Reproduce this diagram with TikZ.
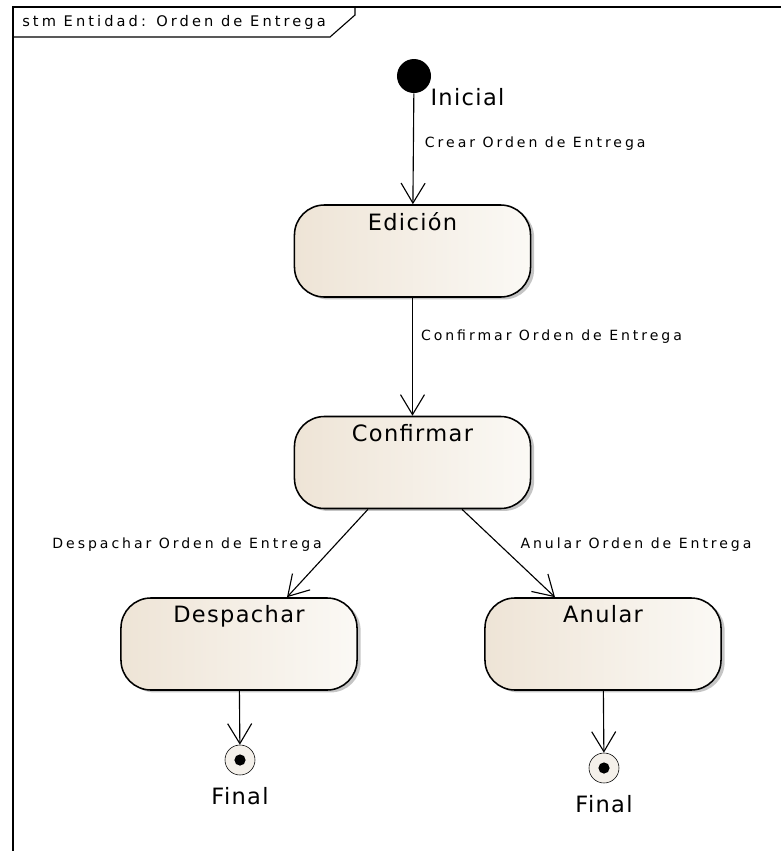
\documentclass[tikz,border=0pt]{standalone}
\usepackage{fontspec}
\setmainfont{DejaVu Sans}
\newfontfamily\lblfont[LetterSpace=21]{DejaVu Sans}
\newfontfamily\namefont[LetterSpace=6]{DejaVu Sans}
\usetikzlibrary{arrows.meta, shadows, calc}

\definecolor{stateleft}{HTML}{EEE4D6}
\definecolor{stateright}{HTML}{FBF9F5}
\definecolor{finalfill}{HTML}{F4F0EA}

\begin{document}
\begin{tikzpicture}[
    x=0.025cm, y=-0.025cm,
    statebox/.style={draw, line width=1.1pt, rounded corners=0.75cm,
        minimum width=5.9cm, minimum height=2.3cm,
        left color=stateleft, right color=stateright,
        drop shadow={shadow xshift=0.9mm, shadow yshift=-0.6mm, fill=black!45, opacity=0.5}},
    statename/.style={font=\namefont\fontsize{16}{19}\selectfont, anchor=north, inner sep=0pt, yshift=-0.2cm},
    transtext/.style={font=\lblfont\fontsize{10}{12}\selectfont, inner sep=0pt},
    transition/.style={-{Straight Barb[length=0.5cm, width=0.6cm]}, line width=0.8pt},
    initstate/.style={circle, fill=black, minimum size=0.85cm, inner sep=0pt},
    finalstate/.style={circle, draw, fill=finalfill, minimum size=0.75cm, inner sep=0pt,
        path picture={\fill [black] (path picture bounding box.center) circle (0.14cm);}},
    pseudoname/.style={font=\namefont\fontsize{16}{19}\selectfont, inner sep=0pt}
]
    \useasboundingbox (0,0) rectangle (781,851);

    % --------------------------------------------------------
    % 1. FRAME AND TITLE TAB
    % --------------------------------------------------------
    \draw [line width=1.2pt] (13,851) -- (13,7) -- (781,7);
    \draw [line width=0.8pt] (13,37) -- (330,37) -- (355,15) -- (355,7);
    \node (titulo) [transtext, anchor=west, font=\lblfont\fontsize{10.4}{12}\selectfont] at (22,22) {stm Entidad: Orden de Entrega};

    % --------------------------------------------------------
    % 2. STATES
    % --------------------------------------------------------
    \node (inicio) [initstate, label={[pseudoname, anchor=north west, xshift=0.1cm]-45:Inicial}] at (414,76) {};

    \node (edicion) [statebox, label={[statename]north:Edición}] at (412.5,251) {};
    \node (confirmar) [statebox, label={[statename]north:Confirmar}] at (412.5,462.5) {};
    \node (despachar) [statebox, label={[statename]north:Despachar}] at (239,644) {};
    \node (anular) [statebox, label={[statename]north:Anular}] at (603,644) {};

    % final states
    \node (fin1) [finalstate, label={[pseudoname, anchor=north, label distance=0.3cm]below:Final}] at (240,760) {};
    \node (fin2) [finalstate, label={[pseudoname, anchor=north, label distance=0.3cm]below:Final}] at (604,768) {};

    % --------------------------------------------------------
    % 3. TRANSITIONS
    % --------------------------------------------------------
    \draw [transition] (inicio) -- (edicion)
        node (lblcrear) [transtext, pos=0.45, anchor=west, xshift=0.275cm] {Crear Orden de Entrega};

    \draw [transition] (edicion) -- (confirmar)
        node (lblconf) [transtext, pos=0.33, anchor=west, xshift=0.2cm] {Confirmar Orden de Entrega};

    \draw [transition] ($(confirmar.south)+(-44.5,0)$) -- ($(despachar.north)+(48,0)$)
        node (lbldesp) [transtext, pos=0.4, anchor=east, xshift=-0.33cm] {Despachar Orden de Entrega};

    \draw [transition] ($(confirmar.south)+(49.5,0)$) -- ($(anular.north)+(-48,0)$)
        node (lblanul) [transtext, pos=0.4, anchor=west, xshift=0.52cm] {Anular Orden de Entrega};

    \draw [transition] (despachar) -- (fin1);
    \draw [transition] (anular) -- (fin2);

\end{tikzpicture}
\end{document}
